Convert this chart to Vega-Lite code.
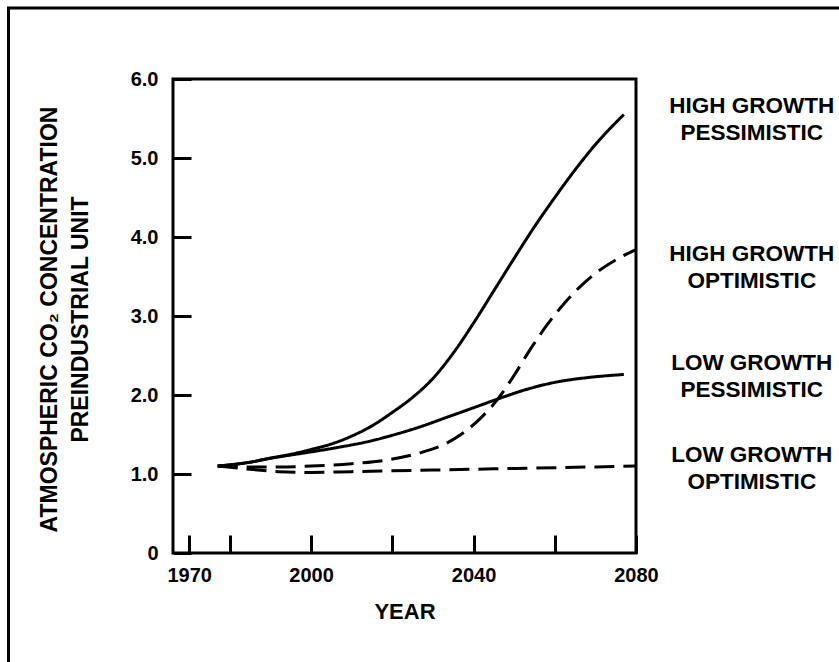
{
  "$schema": "https://vega.github.io/schema/vega-lite/v6.json",
  "width": 463,
  "height": 474,
  "autosize": {"type": "none"},
  "padding": {"left": 173, "top": 79, "right": 203, "bottom": 109},
  "background": "white",
  "config": {
    "view": {"stroke": "black", "strokeWidth": 3},
    "font": "Liberation Sans",
    "axis": {"domain": false, "grid": false, "labelFont": "Liberation Sans", "labelFontWeight": "bold", "labelColor": "black", "titleFont": "Liberation Sans", "titleFontWeight": "bold", "titleColor": "black", "tickColor": "black", "tickWidth": 3}
  },
  "datasets": {
    "curves": [
      {"series": "HGP", "style": "solid", "year": 1977, "value": 1.10},
      {"series": "HGP", "style": "solid", "year": 1985, "value": 1.15},
      {"series": "HGP", "style": "solid", "year": 1990, "value": 1.20},
      {"series": "HGP", "style": "solid", "year": 1995, "value": 1.25},
      {"series": "HGP", "style": "solid", "year": 2000, "value": 1.31},
      {"series": "HGP", "style": "solid", "year": 2005, "value": 1.38},
      {"series": "HGP", "style": "solid", "year": 2010, "value": 1.48},
      {"series": "HGP", "style": "solid", "year": 2015, "value": 1.61},
      {"series": "HGP", "style": "solid", "year": 2020, "value": 1.78},
      {"series": "HGP", "style": "solid", "year": 2025, "value": 1.97},
      {"series": "HGP", "style": "solid", "year": 2030, "value": 2.21},
      {"series": "HGP", "style": "solid", "year": 2035, "value": 2.53},
      {"series": "HGP", "style": "solid", "year": 2040, "value": 2.91},
      {"series": "HGP", "style": "solid", "year": 2045, "value": 3.32},
      {"series": "HGP", "style": "solid", "year": 2050, "value": 3.73},
      {"series": "HGP", "style": "solid", "year": 2055, "value": 4.13},
      {"series": "HGP", "style": "solid", "year": 2060, "value": 4.50},
      {"series": "HGP", "style": "solid", "year": 2065, "value": 4.85},
      {"series": "HGP", "style": "solid", "year": 2070, "value": 5.17},
      {"series": "HGP", "style": "solid", "year": 2077, "value": 5.55},
      {"series": "LGP", "style": "solid", "year": 1977, "value": 1.10},
      {"series": "LGP", "style": "solid", "year": 1985, "value": 1.15},
      {"series": "LGP", "style": "solid", "year": 1990, "value": 1.20},
      {"series": "LGP", "style": "solid", "year": 1995, "value": 1.24},
      {"series": "LGP", "style": "solid", "year": 2000, "value": 1.28},
      {"series": "LGP", "style": "solid", "year": 2007, "value": 1.34},
      {"series": "LGP", "style": "solid", "year": 2014, "value": 1.41},
      {"series": "LGP", "style": "solid", "year": 2020, "value": 1.49},
      {"series": "LGP", "style": "solid", "year": 2027, "value": 1.60},
      {"series": "LGP", "style": "solid", "year": 2033, "value": 1.71},
      {"series": "LGP", "style": "solid", "year": 2039, "value": 1.82},
      {"series": "LGP", "style": "solid", "year": 2046, "value": 1.95},
      {"series": "LGP", "style": "solid", "year": 2053, "value": 2.07},
      {"series": "LGP", "style": "solid", "year": 2060, "value": 2.16},
      {"series": "LGP", "style": "solid", "year": 2068, "value": 2.22},
      {"series": "LGP", "style": "solid", "year": 2077, "value": 2.26},
      {"series": "HGO", "style": "dashed", "year": 1977, "value": 1.10},
      {"series": "HGO", "style": "dashed", "year": 1985, "value": 1.09},
      {"series": "HGO", "style": "dashed", "year": 1992, "value": 1.09},
      {"series": "HGO", "style": "dashed", "year": 2000, "value": 1.10},
      {"series": "HGO", "style": "dashed", "year": 2010, "value": 1.13},
      {"series": "HGO", "style": "dashed", "year": 2019, "value": 1.18},
      {"series": "HGO", "style": "dashed", "year": 2027, "value": 1.27},
      {"series": "HGO", "style": "dashed", "year": 2033, "value": 1.38},
      {"series": "HGO", "style": "dashed", "year": 2038, "value": 1.54},
      {"series": "HGO", "style": "dashed", "year": 2042, "value": 1.72},
      {"series": "HGO", "style": "dashed", "year": 2046, "value": 1.95},
      {"series": "HGO", "style": "dashed", "year": 2050, "value": 2.25},
      {"series": "HGO", "style": "dashed", "year": 2054, "value": 2.58},
      {"series": "HGO", "style": "dashed", "year": 2058, "value": 2.88},
      {"series": "HGO", "style": "dashed", "year": 2062, "value": 3.14},
      {"series": "HGO", "style": "dashed", "year": 2066, "value": 3.36},
      {"series": "HGO", "style": "dashed", "year": 2070, "value": 3.54},
      {"series": "HGO", "style": "dashed", "year": 2075, "value": 3.71},
      {"series": "HGO", "style": "dashed", "year": 2080, "value": 3.84},
      {"series": "LGO", "style": "dashed", "year": 1977, "value": 1.10},
      {"series": "LGO", "style": "dashed", "year": 1985, "value": 1.06},
      {"series": "LGO", "style": "dashed", "year": 1992, "value": 1.03},
      {"series": "LGO", "style": "dashed", "year": 2000, "value": 1.02},
      {"series": "LGO", "style": "dashed", "year": 2010, "value": 1.03},
      {"series": "LGO", "style": "dashed", "year": 2020, "value": 1.04},
      {"series": "LGO", "style": "dashed", "year": 2030, "value": 1.05},
      {"series": "LGO", "style": "dashed", "year": 2040, "value": 1.06},
      {"series": "LGO", "style": "dashed", "year": 2050, "value": 1.07},
      {"series": "LGO", "style": "dashed", "year": 2060, "value": 1.08},
      {"series": "LGO", "style": "dashed", "year": 2070, "value": 1.09},
      {"series": "LGO", "style": "dashed", "year": 2080, "value": 1.10}
    ],
    "labels": [
      {"year": 2108.5, "value": 5.66, "label": "HIGH GROWTH\nPESSIMISTIC"},
      {"year": 2108.5, "value": 3.79, "label": "HIGH GROWTH\nOPTIMISTIC"},
      {"year": 2108.5, "value": 2.41, "label": "LOW GROWTH\nPESSIMISTIC"},
      {"year": 2108.5, "value": 1.24, "label": "LOW GROWTH\nOPTIMISTIC"}
    ],
    "frame": [
      {"x1": 1925.5, "x2": 2250, "y1": 6.9, "y2": -3}
    ]
  },
  "layer": [
    {
      "data": {"name": "curves"},
      "mark": {"type": "line", "color": "black", "strokeWidth": 3, "interpolate": "monotone", "clip": false},
      "encoding": {
        "x": {
          "field": "year", "type": "quantitative",
          "scale": {"domain": [1966, 2080], "nice": false, "zero": false},
          "axis": {
            "title": "YEAR", "values": [1970, 1980, 2000, 2020, 2040, 2060, 2080],
            "labelExpr": "indexof([1970, 2000, 2040, 2080], datum.value) >= 0 ? datum.value + '' : ''",
            "tickSize": -18, "labelPadding": 30, "labelFontSize": 20, "labelFlush": false,
            "titleFontSize": 22, "titleBaseline": "alphabetic", "titleY": 65, "titlePadding": 0
          }
        },
        "y": {
          "field": "value", "type": "quantitative",
          "scale": {"domain": [0, 6], "nice": false},
          "axis": {
            "title": ["ATMOSPHERIC CO₂ CONCENTRATION", "PREINDUSTRIAL UNIT"],
            "values": [0, 1, 2, 3, 4, 5, 6],
            "labelExpr": "datum.value == 0 ? '0' : format(datum.value, '.1f')",
            "tickSize": -18, "labelPadding": 33, "labelFontSize": 20, "labelFlush": false,
            "titleFontSize": 23, "titleLineHeight": 31, "titleBaseline": "middle", "titleAlign": "center",
            "titleAngle": -90, "titleX": -124, "titleY": 240
          }
        },
        "detail": {"field": "series"},
        "strokeDash": {
          "field": "style", "type": "nominal",
          "scale": {"domain": ["solid", "dashed"], "range": [[1, 0], [20, 9]]},
          "legend": null
        }
      }
    },
    {
      "data": {"name": "labels"},
      "mark": {"type": "text", "font": "Liberation Sans", "fontWeight": "bold", "fontSize": 22.5, "lineBreak": "\n", "lineHeight": 27, "align": "center", "baseline": "middle", "color": "black", "clip": false},
      "encoding": {
        "x": {"field": "year", "type": "quantitative"},
        "y": {"field": "value", "type": "quantitative"},
        "text": {"field": "label"}
      }
    },
    {
      "data": {"name": "frame"},
      "mark": {"type": "rect", "fill": null, "fillOpacity": 0, "stroke": "black", "strokeWidth": 3, "clip": false},
      "encoding": {
        "x": {"field": "x1", "type": "quantitative"},
        "x2": {"field": "x2"},
        "y": {"field": "y1", "type": "quantitative"},
        "y2": {"field": "y2"}
      }
    }
  ]
}
